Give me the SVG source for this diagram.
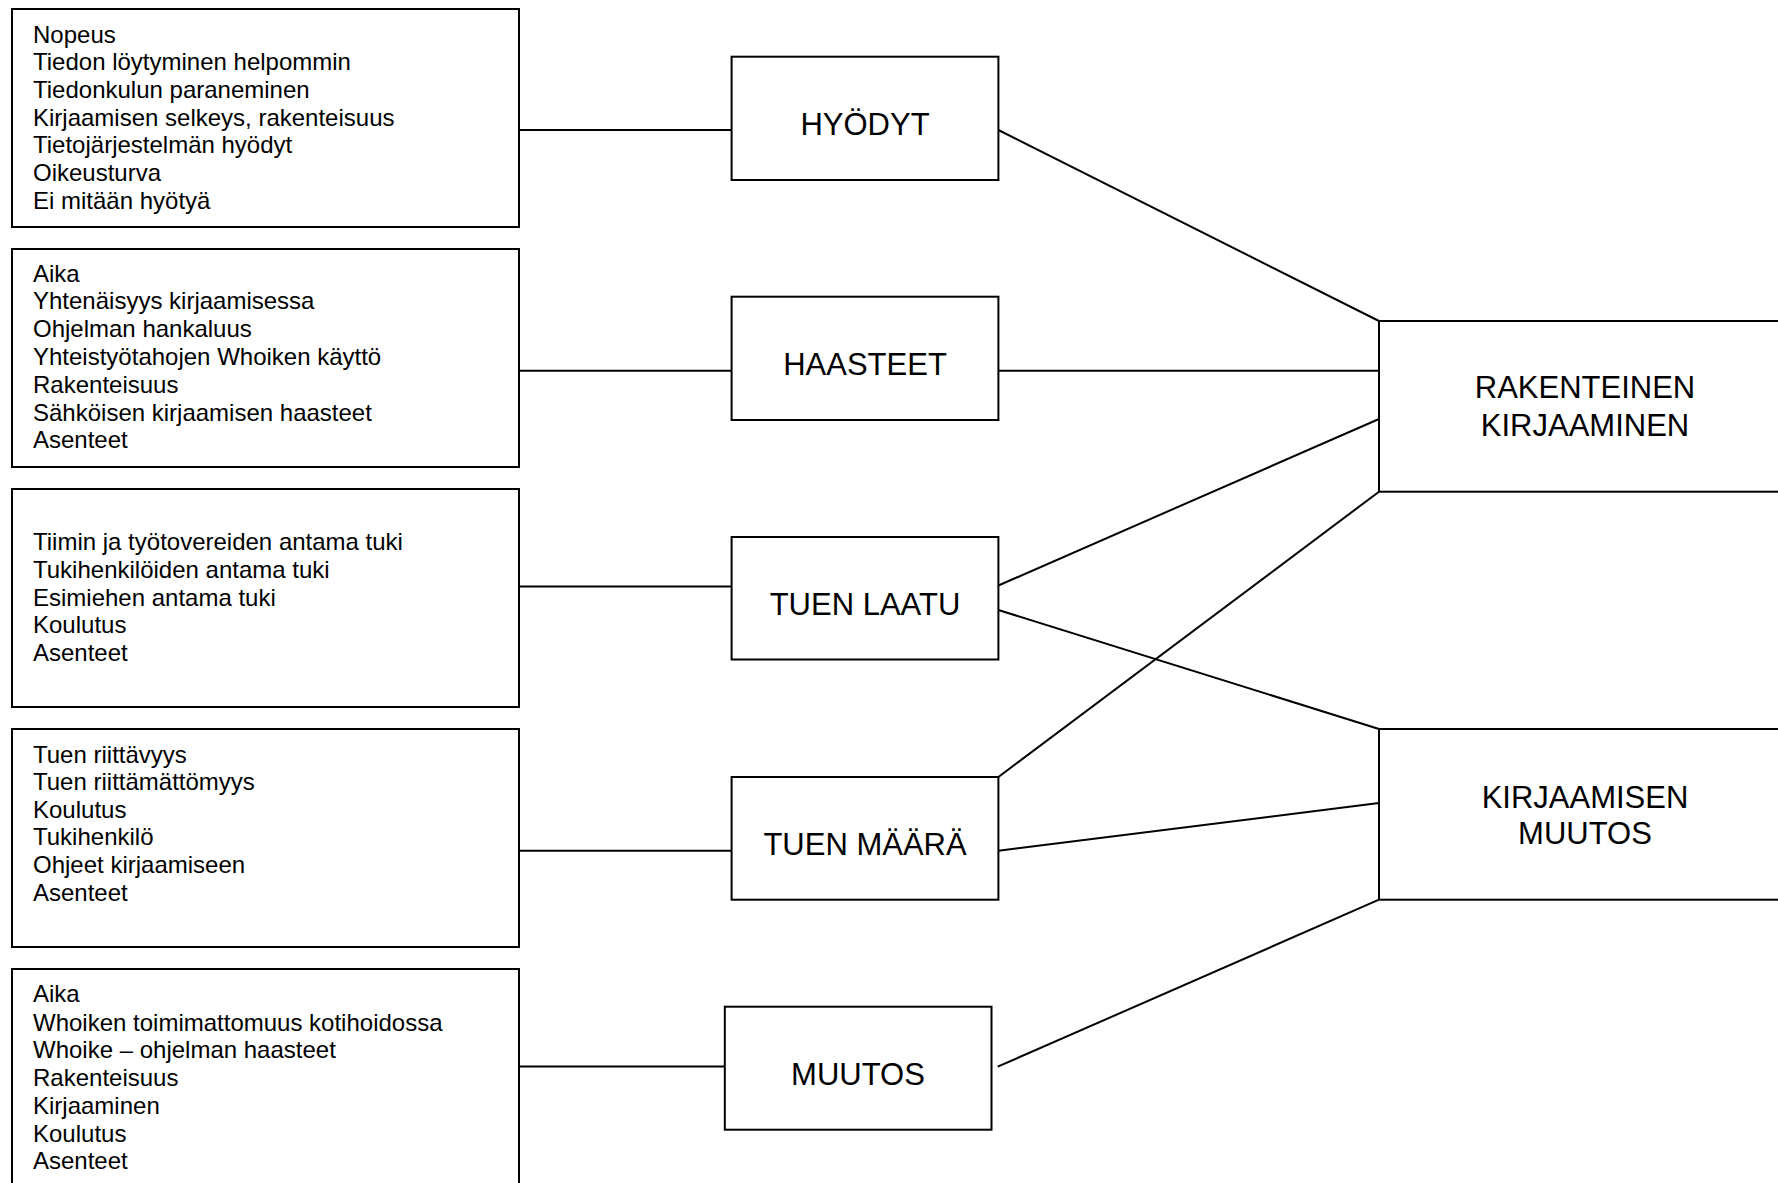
<svg xmlns="http://www.w3.org/2000/svg" width="1778" height="1183" viewBox="0 0 1778 1183">
<style>
rect{fill:#fff;stroke:#000;stroke-width:2}
.c line{stroke:#000;stroke-width:2}
text{font-family:"Liberation Sans",Arial,sans-serif;fill:#000}
.s{font-size:24px}
.b{font-size:31px;text-anchor:middle}
</style>
<rect x="0" y="0" width="1778" height="1183" style="stroke:none"/>
<g class="c" id="connectors">
<line x1="519" y1="130" x2="732" y2="130"/>
<line x1="519" y1="370.7" x2="732" y2="370.7"/>
<line x1="519" y1="586.5" x2="732" y2="586.5"/>
<line x1="519" y1="850.8" x2="732" y2="850.8"/>
<line x1="519" y1="1066.5" x2="732" y2="1066.5"/>
<line x1="998.4" y1="130" x2="1379" y2="321"/>
<line x1="998.4" y1="370.7" x2="1379" y2="370.7"/>
<line x1="998.4" y1="585.5" x2="1379" y2="419"/>
<line x1="998.4" y1="610" x2="1379" y2="729"/>
<line x1="998.4" y1="777" x2="1379" y2="491.7"/>
<line x1="998.4" y1="850.7" x2="1379" y2="803"/>
<line x1="997.7" y1="1066.7" x2="1379" y2="899.7"/>
</g>
<g id="list1">
<rect x="12" y="9" width="507" height="218"/>
<text class="s" x="33"><tspan x="33" y="42.5">Nopeus</tspan><tspan x="33" y="70">Tiedon löytyminen helpommin</tspan><tspan x="33" y="97.7">Tiedonkulun paraneminen</tspan><tspan x="33" y="125.5">Kirjaamisen selkeys, rakenteisuus</tspan><tspan x="33" y="153">Tietojärjestelmän hyödyt</tspan><tspan x="33" y="180.8">Oikeusturva</tspan><tspan x="33" y="208.5">Ei mitään hyötyä</tspan></text>
</g>
<g id="list2">
<rect x="12" y="249" width="507" height="218"/>
<text class="s"><tspan x="33" y="281.7">Aika</tspan><tspan x="33" y="309.3">Yhtenäisyys kirjaamisessa</tspan><tspan x="33" y="337">Ohjelman hankaluus</tspan><tspan x="33" y="365">Yhteistyötahojen Whoiken käyttö</tspan><tspan x="33" y="392.7">Rakenteisuus</tspan><tspan x="33" y="420.5">Sähköisen kirjaamisen haasteet</tspan><tspan x="33" y="448.3">Asenteet</tspan></text>
</g>
<g id="list3">
<rect x="12" y="489" width="507" height="218"/>
<text class="s"><tspan x="33" y="549.5">Tiimin ja työtovereiden antama tuki</tspan><tspan x="33" y="577.5">Tukihenkilöiden antama tuki</tspan><tspan x="33" y="605.5">Esimiehen antama tuki</tspan><tspan x="33" y="632.8">Koulutus</tspan><tspan x="33" y="660.7">Asenteet</tspan></text>
</g>
<g id="list4">
<rect x="12" y="729" width="507" height="218"/>
<text class="s"><tspan x="33" y="762.5">Tuen riittävyys</tspan><tspan x="33" y="790.3">Tuen riittämättömyys</tspan><tspan x="33" y="817.5">Koulutus</tspan><tspan x="33" y="845">Tukihenkilö</tspan><tspan x="33" y="872.8">Ohjeet kirjaamiseen</tspan><tspan x="33" y="900.6">Asenteet</tspan></text>
</g>
<g id="list5">
<rect x="12" y="969" width="507" height="230"/>
<text class="s"><tspan x="33" y="1002.4">Aika</tspan><tspan x="33" y="1030.5">Whoiken toimimattomuus kotihoidossa</tspan><tspan x="33" y="1058.3">Whoike – ohjelman haasteet</tspan><tspan x="33" y="1086.2">Rakenteisuus</tspan><tspan x="33" y="1114">Kirjaaminen</tspan><tspan x="33" y="1141.8">Koulutus</tspan><tspan x="33" y="1169.3">Asenteet</tspan></text>
</g>
<g id="hyodyt">
<rect x="731.6" y="56.7" width="266.8" height="123.3"/>
<text class="b" x="865" y="135">HYÖDYT</text>
</g>
<g id="haasteet">
<rect x="731.6" y="296.7" width="266.8" height="123.3"/>
<text class="b" x="865" y="375">HAASTEET</text>
</g>
<g id="tuen-laatu">
<rect x="731.6" y="537" width="266.8" height="122.5"/>
<text class="b" x="865" y="615">TUEN LAATU</text>
</g>
<g id="tuen-maara">
<rect x="731.6" y="777" width="266.8" height="122.7"/>
<text class="b" x="865" y="855">TUEN MÄÄRÄ</text>
</g>
<g id="muutos">
<rect x="724.8" y="1006.7" width="266.7" height="123"/>
<text class="b" x="858" y="1084.5">MUUTOS</text>
</g>
<g id="rakenteinen">
<rect x="1379" y="321" width="420" height="170.7"/>
<text class="b" x="1585" y="398">RAKENTEINEN</text>
<text class="b" x="1585" y="436">KIRJAAMINEN</text>
</g>
<g id="kirjaamisen-muutos">
<rect x="1379" y="729" width="420" height="170.7"/>
<text class="b" x="1585" y="807.5">KIRJAAMISEN</text>
<text class="b" x="1585" y="843.5">MUUTOS</text>
</g>
</svg>
